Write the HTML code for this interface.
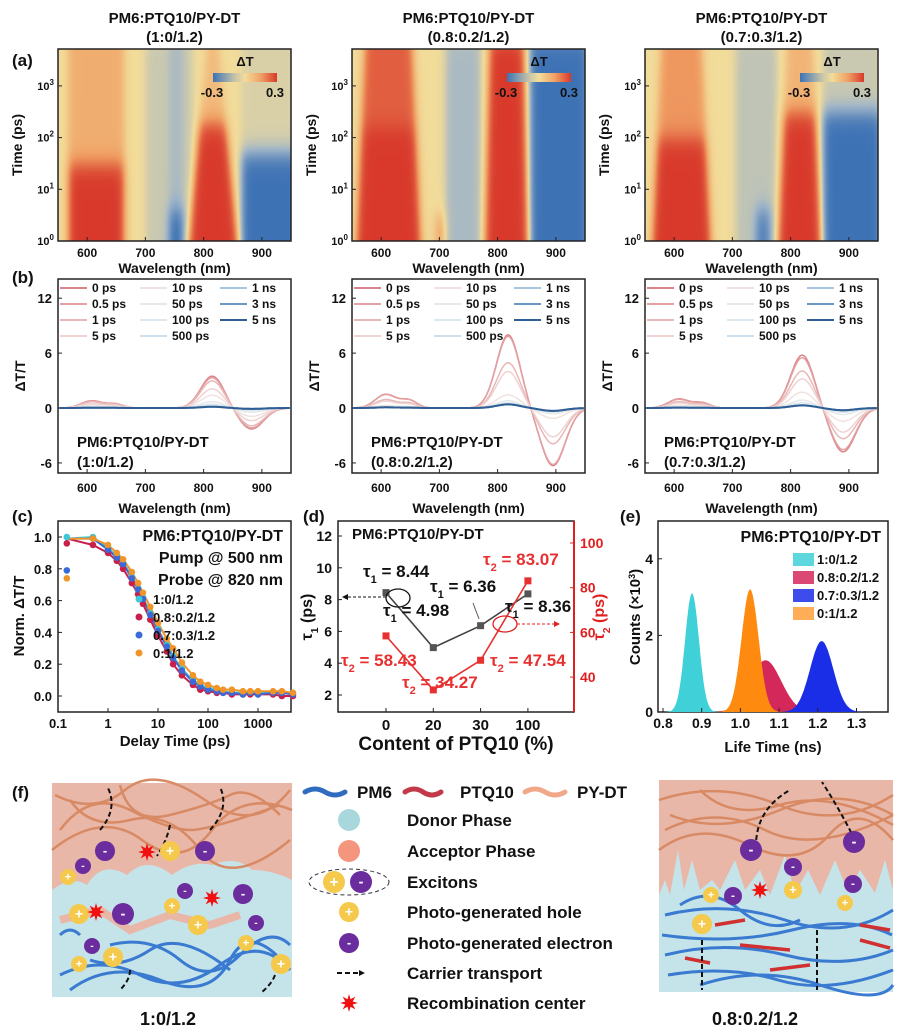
<!DOCTYPE html>
<html><head><meta charset="utf-8"><style>
html,body{margin:0;padding:0;background:#fff;}
#wrap{position:relative;width:903px;height:1032px;overflow:hidden;font-family:"Liberation Sans",Arial,sans-serif;}
canvas{position:absolute;top:49px;}
svg{position:absolute;left:0;top:0;}
text{font-family:"Liberation Sans",Arial,sans-serif;}
</style></head><body>
<div id="wrap">
<canvas id="hm0" width="233" height="192" style="left:58px"></canvas>
<canvas id="hm1" width="233" height="192" style="left:352px"></canvas>
<canvas id="hm2" width="233" height="192" style="left:645px"></canvas>
<svg id="fig" width="903" height="1032" viewBox="0 0 903 1032"></svg>
</div>
<script>
// ---------- DATA ----------
// heatmap bands: [centre nm, half-width nm, amplitude, log10(end time), late amplitude, taper]
const hmBands0=[[615,48,1,1.5,0.35,0],[740,40,-0.2,4,0,0],[752,12,-0.8,0.6,-0.15,0],[815,42,1,2.3,0.25,0.75],[915,50,-1,1.7,-0.12,0]];
const hmBands1=[[612,55,1,2.2,0.8,0.25],[740,30,-0.35,4,0,0],[700,8,0.4,0.5,0,0],[815,37,1,4,0,0.2],[905,50,-1,4,0,0]];
const hmBands2=[[612,50,1,2.0,0.5,0.3],[740,35,-0.25,4,0,0],[752,12,-0.6,0.6,0,0],[815,37,1,2.5,0.3,0.4],[905,50,-1,2.5,-0.2,0]];
const hmTitles=['(1:0/1.2)','(0.8:0.2/1.2)','(0.7:0.3/1.2)'];
const wlTicks=[600,700,800,900];
const timeDecades=[0,1,2,3];
// spectra (b)
const specDelays=['0 ps','0.5 ps','1 ps','5 ps','10 ps','50 ps','100 ps','500 ps','1 ns','3 ns','5 ns'];
const specScale0=[1,0.95,0.85,0.6,0.4,0.2,0.12,0.06,0.04,0.04,0.04];
const specScale1=[1,0.98,0.62,0.5,0.18,0.1,0.07,0.05,0.05,0.05,0.05];
const specScale2=[1,0.95,0.7,0.55,0.3,0.15,0.1,0.06,0.05,0.05,0.05];
const specBump=[0.8,1.5,1.0];
const specPeakC=[815,818,820];
const specPeakA=[3.5,8.0,5.8];
const specNegC=[882,895,890];
const specNegA=[-2.3,-6.3,-4.8];
const specTicks=[12,6,0,-6];
// kinetics (c)
const kinTimes=[0.15,0.5,1,1.5,2,3,4,5,7,10,15,20,30,50,70,100,150,200,300,500,700,1000,2000,3000,5000];
const kinCyan=[1.0,1.0,0.93,0.88,0.84,0.75,0.68,0.62,0.52,0.42,0.32,0.25,0.17,0.1,0.07,0.05,0.04,0.03,0.02,0.02,0.02,0.02,0.02,0.02,0.02];
const kinRed=[0.96,0.95,0.9,0.85,0.8,0.71,0.64,0.58,0.48,0.38,0.28,0.2,0.13,0.07,0.04,0.03,0.02,0.02,0.01,0.01,0.01,0.01,0.01,0.0,0.0];
const kinBlue=[0.79,0.99,0.92,0.87,0.83,0.74,0.67,0.61,0.51,0.41,0.31,0.24,0.16,0.09,0.06,0.04,0.03,0.02,0.02,0.01,0.02,0.01,0.02,0.02,0.01];
const kinOrange=[0.74,0.99,0.95,0.9,0.86,0.78,0.71,0.65,0.56,0.46,0.36,0.3,0.21,0.13,0.09,0.07,0.05,0.04,0.04,0.03,0.03,0.03,0.03,0.03,0.02];
const kinLabels=['1:0/1.2','0.8:0.2/1.2','0.7:0.3/1.2','0:1/1.2'];
const kinYTicks=[0,0.2,0.4,0.6,0.8,1.0];
const kinXTicks=['0.1','1','10','100','1000'];
// lifetimes (d)
const ptqContent=['0','20','30','100'];
const tau1=[8.44,4.98,6.36,8.36];
const tau2=[58.43,34.27,47.54,83.07];
const tau1Ticks=[2,4,6,8,10,12];
const tau2Ticks=[40,60,80,100];
// histograms (e)
const histLabels=['1:0/1.2','0.8:0.2/1.2','0.7:0.3/1.2','0:1/1.2'];
const histCentre=[0.875,1.065,1.21,1.025];
const histSigma=[0.018,0.04,0.03,0.022];
const histPeak=[3.1,1.35,1.85,3.2];
const histXTicks=[0.8,0.9,1.0,1.1,1.2,1.3];
const histYTicks=[0,2,4];

// ---------- HELPERS ----------
const NS='http://www.w3.org/2000/svg';
const svg=document.getElementById('fig');
function mk(tag,at,p){const e=document.createElementNS(NS,tag);for(const k in at)e.setAttribute(k,at[k]);(p||svg).appendChild(e);return e;}
function tx(x,y,s,sz,anc,col,p,rot){const e=mk('text',{x:x,y:y,'font-size':sz,'text-anchor':anc||'middle',fill:col||'#111','font-weight':'bold'},p);if(rot)e.setAttribute('transform','rotate(-90 '+x+' '+y+')');e.innerHTML=s;return e;}
function grp(name){const g=mk('g',{});return g;}
const T1='τ<tspan font-size="0.65em" baseline-shift="sub">1</tspan>';
const T2='τ<tspan font-size="0.65em" baseline-shift="sub">2</tspan>';

// ---------- (a) HEATMAPS ----------
const hmL=[58,352,645],hmTop=49,hmW=233,hmH=192;
const cstops=[[-1,[61,114,181]],[-0.4,[160,181,200]],[0,[242,220,154]],[0.45,[240,160,100]],[1,[216,57,43]]];
function cmap(v){v=Math.max(-1,Math.min(1,v));for(let i=0;i<cstops.length-1;i++){const a=cstops[i],b=cstops[i+1];if(v<=b[0]){const f=(v-a[0])/(b[0]-a[0]);return a[1].map((c,k)=>c+(b[1][k]-c)*f);}}return cstops[4][1];}
function drawHM(id,bands){
  const cv=document.getElementById(id),ctx=cv.getContext('2d'),im=ctx.createImageData(hmW,hmH);
  for(let y=0;y<hmH;y++){const lt=3.72*(1-y/hmH);
    for(let x=0;x<hmW;x++){const lam=550+x/hmW*400;let v=0;
      for(const b of bands){const wt=b[1]*(1-b[5]*Math.max(0,lt)/3.7);
        const sp=1/(1+Math.exp((Math.abs(lam-b[0])-wt)/4));
        const tf=1/(1+Math.exp((lt-b[3])/0.12));
        v+=sp*(b[2]*tf+b[4]*(1-tf));}
      const c=cmap(v),o=(y*hmW+x)*4;im.data[o]=c[0];im.data[o+1]=c[1];im.data[o+2]=c[2];im.data[o+3]=255;}}
  ctx.putImageData(im,0,0);}
drawHM('hm0',hmBands0);drawHM('hm1',hmBands1);drawHM('hm2',hmBands2);
const cbGrad=mk('linearGradient',{id:'cbg'},mk('defs',{}));
[['0%','#3d72b5'],['35%','#c9c6a8'],['50%','#f2dc9a'],['75%','#f0a064'],['100%','#d8392b']].forEach(s=>mk('stop',{offset:s[0],'stop-color':s[1]},cbGrad));
tx(12,66,'(a)',17,'start');
for(let i=0;i<3;i++){
  const L=hmL[i],cx=L+hmW/2,g=grp('heatmap-axes-'+(i+1));
  tx(cx,23,'PM6:PTQ10/PY-DT',15,'middle','#111',g);
  tx(cx,42,hmTitles[i],15,'middle','#111',g);
  mk('rect',{x:L,y:hmTop,width:hmW,height:hmH,fill:'none',stroke:'#222','stroke-width':1.5},g);
  wlTicks.forEach(w=>{const x=L+(w-550)/400*hmW;mk('line',{x1:x,x2:x,y1:hmTop+hmH,y2:hmTop+hmH-4,stroke:'#222'},g);tx(x,257,w,12,'middle','#111',g);});
  timeDecades.forEach(d=>{const y=hmTop+hmH-d*51.7;mk('line',{x1:L,x2:L+4,y1:y,y2:y,stroke:'#222'},g);tx(L-4,y+4,'10<tspan font-size="8" dy="-5">'+d+'</tspan>',11,'end','#111',g);});
  tx(cx,273,'Wavelength (nm)',14,'middle','#111',g);
  tx(L-36,hmTop+hmH/2,'Time (ps)',14,'middle','#111',g,true);
  const cb=grp('colorbar-'+(i+1));
  mk('rect',{x:L+155,y:73,width:64,height:9,fill:'url(#cbg)'},cb);
  tx(L+187,66,'ΔT',13,'middle','#111',cb);
  tx(L+154,97,'-0.3',13,'middle','#111',cb);
  tx(L+217,97,'0.3',13,'middle','#111',cb);
}

// ---------- (b) SPECTRA ----------
tx(12,283,'(b)',17,'start');
const specColors=['#d9848a','#e4a0a2','#e8b8b8','#efd2d2','#f0e2e0','#e6e9ea','#dce7ee','#cddfec','#a8c6df','#6a98c4','#2f5e94'];
const specScales=[specScale0,specScale1,specScale2];
const bTop=279,bH=194;
function gau(x,c,s){return Math.exp(-0.5*((x-c)/s)**2);}
for(let i=0;i<3;i++){
  const L=hmL[i],g=grp('spectra-panel-'+(i+1));
  const xs=w=>L+(w-550)/400*hmW, ys=v=>bTop+(14.1-v)/21.2*bH;
  mk('rect',{x:L,y:bTop,width:hmW,height:bH,fill:'#fff',stroke:'#222','stroke-width':1.5},g);
  specTicks.forEach(t=>{const y=ys(t);mk('line',{x1:L,x2:L+4,y1:y,y2:y,stroke:'#222'},g);tx(L-6,y+5,t,13,'end','#111',g);});
  wlTicks.forEach(w=>{const x=xs(w);mk('line',{x1:x,x2:x,y1:bTop+bH,y2:bTop+bH-4,stroke:'#222'},g);tx(x,492,w,12,'middle','#111',g);});
  tx(L+hmW/2,513,'Wavelength (nm)',14,'middle','#111',g);
  tx(L-33,bTop+bH/2,'ΔT/T',14,'middle','#111',g,true);
  for(let k=0;k<specDelays.length;k++){
    const s=specScales[i][k];let d='';
    for(let w=552;w<=948;w+=2){const v=s*(specBump[i]*gau(w,608,18)+0.55*specBump[i]*gau(w,648,14)+specPeakA[i]*gau(w,specPeakC[i],20)+specNegA[i]*gau(w,specNegC[i],21));d+=(w===552?'M':'L')+xs(w).toFixed(1)+' '+ys(v).toFixed(1);}
    const p=mk('path',{d:d,fill:'none',stroke:specColors[k],'stroke-width':k>=9?2:1.5},g);
    
    
  }
  const lg=grp('spectra-legend-'+(i+1));
  for(let k=0;k<specDelays.length;k++){const col=Math.floor(k/4),row=k%4;
    const lx=L+2+col*80,ly=288+row*16;
    mk('line',{x1:lx,x2:lx+27,y1:ly,y2:ly,stroke:specColors[k],'stroke-width':2},lg);
    tx(lx+32,ly+4,specDelays[k],12,'start','#111',lg);}
  tx(L+19,447,'PM6:PTQ10/PY-DT',15,'start','#111',g);
  tx(L+19,467,hmTitles[i],15,'start','#111',g);
}

// ---------- (c) KINETICS ----------
tx(12,522,'(c)',17,'start');
{const g=grp('kinetics-panel'),L=58,R=291,Tp=521,B=712;
 const xs=t=>L+(Math.log10(t)+1)*50, ys=v=>537+(1-v)*159;
 mk('rect',{x:L,y:Tp,width:R-L,height:B-Tp,fill:'#fff',stroke:'#222','stroke-width':1.5},g);
 kinYTicks.forEach(v=>{const y=ys(v);mk('line',{x1:L,x2:L+4,y1:y,y2:y,stroke:'#222'},g);tx(L-6,y+5,v.toFixed(1),13,'end','#111',g);});
 kinXTicks.forEach(t=>{const x=xs(+t);mk('line',{x1:x,x2:x,y1:B,y2:B-4,stroke:'#222'},g);tx(x,728,t,13,'middle','#111',g);});
 tx(175,746,'Delay Time (ps)',15,'middle','#111',g);
 tx(24,616,'Norm. ΔT/T',15,'middle','#111',g,true);
 const series=[kinCyan,kinRed,kinBlue,kinOrange],cols=['#3cc8d8','#c8204a','#3a6ad8','#f0952a'];
 series.forEach((s,si)=>{let d='';s.forEach((v,k)=>{if(k===0)return;d+=(k===1?'M'+xs(0.15)+' '+ys(0.99)+'L':'L')+xs(kinTimes[k]).toFixed(1)+' '+ys(v).toFixed(1);});
   const p=mk('path',{d:d,fill:'none',stroke:cols[si],'stroke-width':2},g);
   
   });
 series.forEach((s,si)=>{s.forEach((v,k)=>{const c=mk('circle',{cx:xs(kinTimes[k]),cy:ys(v),r:3.3,fill:cols[si]},g);
   
   });});
 tx(283,541,'PM6:PTQ10/PY-DT',16,'end','#111',g);
 tx(283,563,'Pump @ 500 nm',16,'end','#111',g);
 tx(283,585,'Probe @ 820 nm',16,'end','#111',g);
 kinLabels.forEach((l,k)=>{const y=599+k*18;mk('circle',{cx:139,cy:y,r:3.5,fill:cols[k]},g);tx(153,y+5,l,13,'start','#111',g);});
}

// ---------- (d) LIFETIMES ----------
tx(303,522,'(d)',17,'start');
{const g=grp('lifetime-panel'),L=338,R=574,Tp=521,B=712;
 const xs=i=>386+i*47.3, y1=v=>536+(12-v)*15.9, y2=v=>543+(100-v)*2.235;
 mk('rect',{x:L,y:Tp,width:R-L,height:B-Tp,fill:'#fff',stroke:'#222','stroke-width':1.5},g);
 mk('line',{x1:R,x2:R,y1:Tp,y2:B,stroke:'#e02020','stroke-width':2},g);
 tau1Ticks.forEach(v=>{const y=y1(v);mk('line',{x1:L,x2:L+4,y1:y,y2:y,stroke:'#222'},g);tx(L-6,y+5,v,14,'end','#111',g);});
 tau2Ticks.forEach(v=>{const y=y2(v);mk('line',{x1:R,x2:R-4,y1:y,y2:y,stroke:'#e02020'},g);tx(R+6,y+5,v,14,'start','#e02020',g);});
 ptqContent.forEach((c,i)=>{const x=xs(i);mk('line',{x1:x,x2:x,y1:B,y2:B-4,stroke:'#222'},g);tx(x,730,c,15,'middle','#111',g);});
 tx(456,750,'Content of PTQ10 (%)',19,'middle','#111',g);
 tx(312,617,T1+' (ps)',16,'middle','#111',g,true);
 tx(604,617,T2+' (ps)',16,'middle','#e02020',g,true);
 tx(352,539,'PM6:PTQ10/PY-DT',15,'start','#111',g);
 const p1=mk('polyline',{points:tau1.map((v,i)=>xs(i)+','+y1(v)).join(' '),fill:'none',stroke:'#444','stroke-width':1.6},g);
 
 
 const p2=mk('polyline',{points:tau2.map((v,i)=>xs(i)+','+y2(v)).join(' '),fill:'none',stroke:'#e83030','stroke-width':1.6},g);
 
 
 tau1.forEach((v,i)=>{const r=mk('rect',{x:xs(i)-3.5,y:y1(v)-3.5,width:7,height:7,fill:'#555'},g);
   
   });
 tau2.forEach((v,i)=>{const r=mk('rect',{x:xs(i)-3.5,y:y2(v)-3.5,width:7,height:7,fill:'#e83030'},g);
   
   });
 mk('ellipse',{cx:398,cy:598,rx:12,ry:9,fill:'none',stroke:'#111','stroke-width':1.3},g);
 mk('line',{x1:386,x2:346,y1:597,y2:597,stroke:'#111','stroke-dasharray':'3,2'},g);
 mk('path',{d:'M342 597 l6 -3 v6z',fill:'#111'},g);
 mk('ellipse',{cx:505,cy:624,rx:12,ry:8,fill:'none',stroke:'#e02020','stroke-width':1.3},g);
 mk('line',{x1:517,x2:554,y1:624,y2:624,stroke:'#e02020','stroke-dasharray':'3,2'},g);
 mk('path',{d:'M560 624 l-6 -3 v6z',fill:'#e02020'},g);
 mk('line',{x1:473,x2:479,y1:603,y2:619,stroke:'#555'},g);
 tx(363,577,T1+' = 8.44',17,'start','#111',g);
 tx(383,616,T1+' = 4.98',17,'start','#111',g);
 tx(430,592,T1+' = 6.36',17,'start','#111',g);
 tx(505,612,T1+' = 8.36',17,'start','#111',g);
 tx(483,565,T2+' = 83.07',17,'start','#e83030',g);
 tx(341,666,T2+' = 58.43',17,'start','#e83030',g);
 tx(402,688,T2+' = 34.27',17,'start','#e83030',g);
 tx(490,666,T2+' = 47.54',17,'start','#e83030',g);
}

// ---------- (e) HISTOGRAMS ----------
tx(620,522,'(e)',17,'start');
{const g=grp('histogram-panel'),L=658,R=888,Tp=521,B=712;
 const xs=v=>663+(v-0.8)*387, ys=c=>712-c*38.3;
 mk('rect',{x:L,y:Tp,width:R-L,height:B-Tp,fill:'#fff',stroke:'#222','stroke-width':1.5},g);
 const cols=['#3fd0d8','#d4285a','#1a2ee8','#ff8a10'];
 [1,0,2,3].forEach(k=>{let d='M'+xs(histCentre[k]-4*histSigma[k])+' '+B;
   for(let v=histCentre[k]-4*histSigma[k];v<=histCentre[k]+4*histSigma[k];v+=0.002)d+='L'+xs(v).toFixed(1)+' '+ys(histPeak[k]*gau(v,histCentre[k],histSigma[k])).toFixed(1);
   d+='L'+xs(histCentre[k]+4*histSigma[k])+' '+B+'Z';
   const p=mk('path',{d:d,fill:cols[k]},g);
   
   });
 histXTicks.forEach(v=>{const x=xs(v);mk('line',{x1:x,x2:x,y1:B,y2:B-4,stroke:'#222'},g);tx(x,728,v.toFixed(1),14,'middle','#111',g);});
 histYTicks.forEach(v=>{const y=ys(v);mk('line',{x1:L,x2:L+4,y1:y,y2:y,stroke:'#222'},g);tx(L-5,y+5,v,14,'end','#111',g);});
 tx(773,752,'Life Time (ns)',15,'middle','#111',g);
 tx(640,617,'Counts (×10<tspan font-size="9" dy="-5">3</tspan><tspan dy="5">)</tspan>',15,'middle','#111',g,true);
 tx(881,542,'PM6:PTQ10/PY-DT',16,'end','#111',g);
 histLabels.forEach((l,k)=>{const y=559+k*18;mk('rect',{x:793,y:y-6,width:21,height:13,fill:cols[k],opacity:k==3?0.7:0.85},g);tx(817,y+5,l,13,'start','#111',g);});
}

// ---------- (f) SCHEMATIC ----------
tx(12,798,'(f)',17,'start');
function hole(x,y,r,p){const c=mk('circle',{cx:x,cy:y,r:r,fill:'#f5c94c'},p);tx(x,y+r*0.45,'+',r*1.4,'middle','#fff',p);}
function elec(x,y,r,p){mk('circle',{cx:x,cy:y,r:r,fill:'#6b2c9e'},p);tx(x,y+r*0.4,'-',r*1.3,'middle','#fff',p);}
function star(x,y,p){let d='';for(let i=0;i<16;i++){const a=i*Math.PI/8,r=i%2?4:9;d+=(i?'L':'M')+(x+r*Math.cos(a)).toFixed(1)+' '+(y+r*Math.sin(a)).toFixed(1);}mk('path',{d:d+'Z',fill:'#f01010'},p);}
function darrow(d,p,col){mk('path',{d:d,fill:'none',stroke:col||'#111','stroke-width':2,'stroke-dasharray':'5,3'},p);}
{const g=grp('morphology-1-0-1-2');
 mk('rect',{x:52,y:783,width:240,height:214,fill:'#e9b7a8'},g);
 mk('path',{d:'M52 890 q20 -15 35 -5 q15 -25 40 -10 q20 -20 45 0 q20 -15 40 -10 q25 -10 40 5 q20 0 40 10 V997 H52Z',fill:'#c5e4ea'},g);
 mk('path',{d:'M60 920 l40 -10 l30 20 l40 -15 l40 10 l30 -10',fill:'none',stroke:'#e9b7a8','stroke-width':8},g);
 ['M55 795 q40 20 70 -5 t80 10 t85 -10','M60 830 q30 -40 70 -20 t60 20 t90 -25','M52 850 q50 -40 90 -10 t70 -10 t80 -20','M120 785 q10 40 50 30 t60 -20 t50 20','M70 800 q20 30 60 20 t70 30 t90 -10'].forEach(d=>mk('path',{d:d,fill:'none',stroke:'#d88a64','stroke-width':2.5},g));
 ['M60 975 q40 -20 80 0 t80 -10 t70 5','M70 990 q40 -30 90 -10 t70 -20 t60 10','M110 945 q40 -10 70 15 t60 -5 t50 -10','M90 960 q30 10 60 -10 t80 20','M60 935 q10 -10 20 0'].forEach(d=>mk('path',{d:d,fill:'none',stroke:'#3a7ad0','stroke-width':3},g));
 [[108,788,100,830],[220,787,210,830],[157,856,170,825],[120,990,130,970],[262,992,275,975]].forEach(a=>darrow('M'+a[2]+' '+a[3]+' Q'+(a[0]+10)+' '+((a[1]+a[3])/2)+' '+a[0]+' '+a[1],g));
 elec(105,851,10,g);elec(83,866,8,g);hole(68,877,8,g);star(147,852,g);hole(170,851,10,g);elec(205,851,10,g);
 elec(185,891,8,g);hole(172,906,8,g);star(212,898,g);elec(243,894,10,g);hole(79,914,10,g);star(96,912,g);elec(123,914,11,g);
 hole(198,925,10,g);elec(256,923,8,g);hole(246,943,8,g);elec(92,946,8,g);hole(79,964,8,g);hole(113,957,10,g);hole(281,964,10,g);
}
{const g=grp('legend-schematic');
 mk('path',{d:'M305 792 q10 -6 20 0 t20 0',fill:'none',stroke:'#2f6cc0','stroke-width':5,'stroke-linecap':'round'},g);
 tx(357,798,'PM6',17,'start','#111',g);
 mk('path',{d:'M405 792 q9 -6 18 0 t18 0',fill:'none',stroke:'#c23a4a','stroke-width':5,'stroke-linecap':'round'},g);
 tx(460,798,'PTQ10',17,'start','#111',g);
 mk('path',{d:'M525 792 q10 -6 20 0 t20 0',fill:'none',stroke:'#f0a888','stroke-width':5,'stroke-linecap':'round'},g);
 tx(577,798,'PY-DT',17,'start','#111',g);
 mk('circle',{cx:349,cy:820,r:11,fill:'#a9d8dc'},g);tx(407,826,'Donor Phase',17,'start','#111',g);
 mk('circle',{cx:349,cy:851,r:11,fill:'#f4957e'},g);tx(407,857,'Acceptor Phase',17,'start','#111',g);
 mk('ellipse',{cx:349,cy:882,rx:40,ry:13,fill:'none',stroke:'#334','stroke-dasharray':'4,3'},g);
 hole(334,882,11,g);elec(361,882,11,g);tx(407,888,'Excitons',17,'start','#111',g);
 hole(349,912,10,g);tx(407,918,'Photo-generated hole',17,'start','#111',g);
 elec(349,943,10,g);tx(407,949,'Photo-generated electron',17,'start','#111',g);
 darrow('M337 973 h22',g);mk('path',{d:'M365 973 l-6 -3 v6z',fill:'#111'},g);tx(407,979,'Carrier transport',17,'start','#111',g);
 star(349,1003,g);tx(407,1009,'Recombination center',17,'start','#111',g);
}
{const g=grp('morphology-0-8-0-2-1-2');
 mk('rect',{x:659,y:780,width:234,height:212,fill:'#e9b7a8'},g);
 mk('path',{d:'M659 895 L665 880 L670 895 L678 850 L684 890 L692 860 L700 890 L712 880 L720 890 L735 860 L745 890 L760 870 L770 895 L785 855 L795 893 L808 870 L820 895 L835 860 L848 892 L860 870 L875 893 L885 860 L893 890 V992 H659Z',fill:'#c5e4ea'},g);
 ['M659 800 q60 -20 120 5 t114 -10','M665 830 q50 -25 100 0 t128 -15','M659 850 q40 -30 90 -5 t80 -10 t64 5','M700 790 q30 30 80 15 t113 20','M670 815 q50 20 110 -5 t113 5'].forEach(d=>mk('path',{d:d,fill:'none',stroke:'#d88a64','stroke-width':2.5},g));
 ['M665 915 q60 -15 120 5 t108 -10','M662 935 q70 10 130 -5 t100 5','M665 955 q60 -15 120 0 t108 -5','M668 975 q60 -10 110 5 t115 -10','M700 985 q60 -20 120 0 t73 0','M680 905 q30 -20 60 5 t60 10'].forEach(d=>mk('path',{d:d,fill:'none',stroke:'#3a7ad0','stroke-width':3},g));
 ['M715 925 l30 -5','M740 945 l50 5','M685 958 l25 5','M770 970 l40 -5','M860 925 l30 5','M860 940 l30 8'].forEach(d=>mk('path',{d:d,stroke:'#d03030','stroke-width':3.5},g));
 darrow('M756 848 Q755 810 790 790',g);darrow('M855 840 Q840 810 822 782',g);darrow('M702 940 V990',g);darrow('M817 930 V990',g);
 elec(751,850,11,g);star(760,890,g);hole(711,895,8,g);elec(733,896,9,g);hole(702,924,10,g);elec(793,867,9,g);hole(793,890,9,g);elec(854,842,11,g);elec(853,884,9,g);hole(845,903,8,g);
}
tx(168,1025,'1:0/1.2',18,'middle','#111');
tx(755,1025,'0.8:0.2/1.2',18,'middle','#111');
</script>
</body></html>
